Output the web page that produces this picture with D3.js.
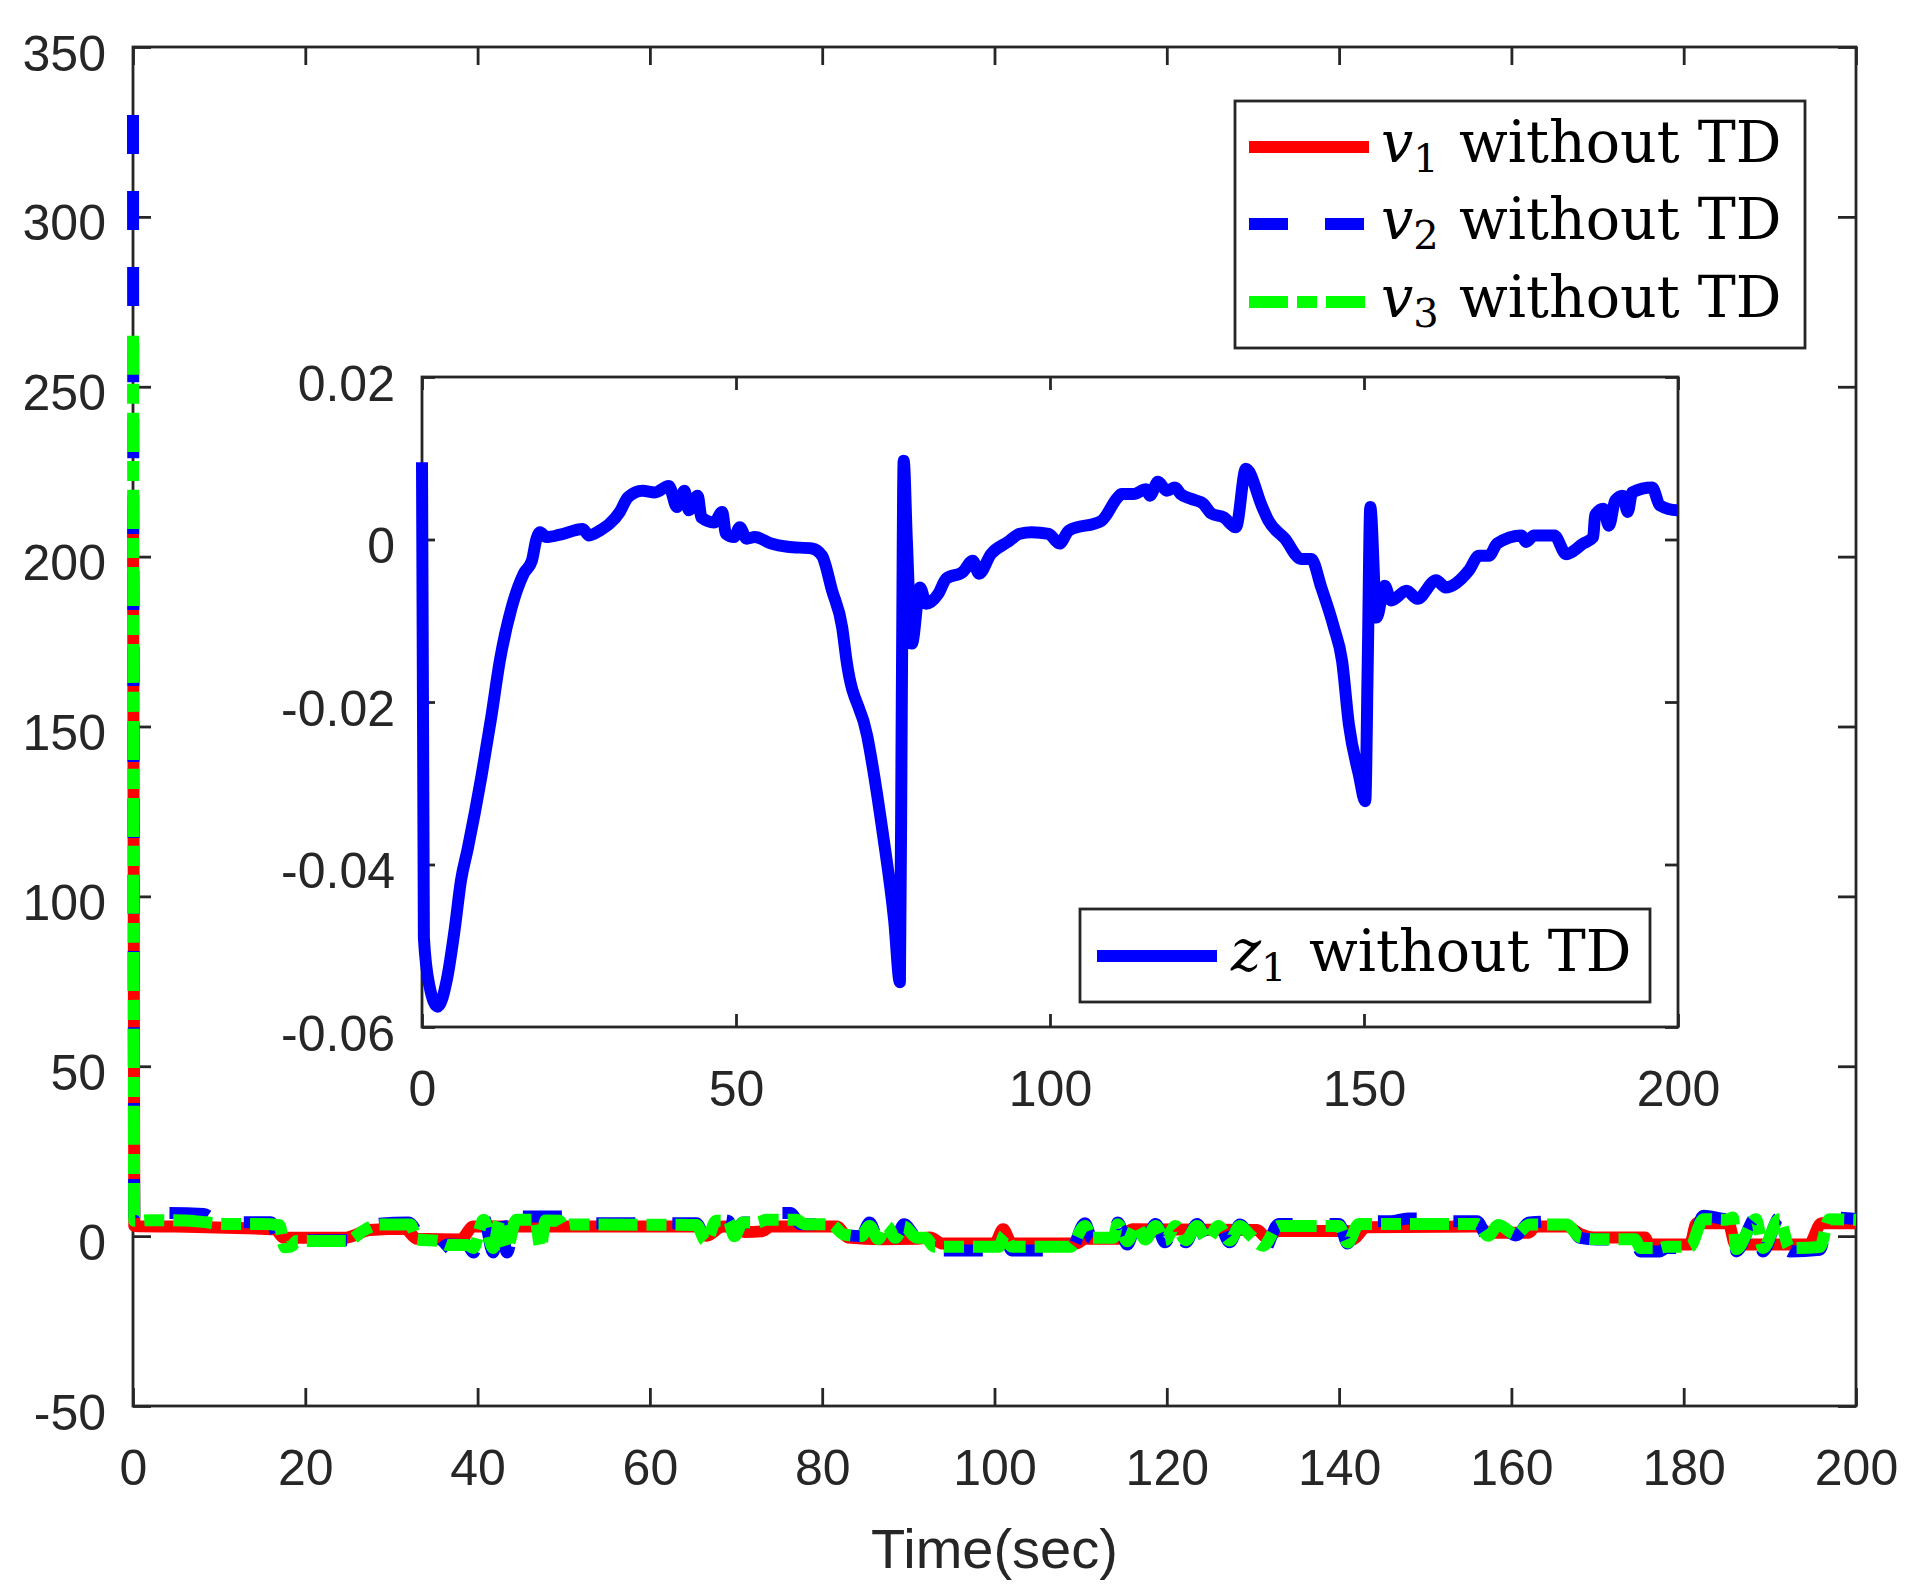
<!DOCTYPE html>
<html lang="en">
<head>
<meta charset="utf-8">
<script src="https://d3js.org/d3.v7.min.js"></script>
<style>
  body { margin: 0; background: #ffffff; }
</style>
</head>
<body>
<div id="chart"></div>
<script>
// tick values / labels
const mainXTicks = [0, 20, 40, 60, 80, 100, 120, 140, 160, 180, 200];
const mainYTicks = [-50, 0, 50, 100, 150, 200, 250, 300, 350];
const insetXTicks = [0, 50, 100, 150, 200];
const insetYTicks = [-0.06, -0.04, -0.02, 0, 0.02];
const insetYLabels = ["-0.06", "-0.04", "-0.02", "0", "0.02"];

// v1 without TD  [time, value]
const v1 = [[0, 215], [0.15, 3], [5, 2.8], [12, 2.4], [16.5, 2.0], [17.5, -0.5], [24.5, -0.5], [27.5, 1.8],
  [31.5, 2.2], [33, -0.8], [38, -1.0], [39.5, 2.8], [52, 2.8], [65.4, 2.8], [66.5, 0.1], [68.5, 2.8],
  [70, 2.6], [71, 1.2], [73, 1.4], [74, 2.8], [81.7, 2.8], [83, -0.4], [87, -0.9], [91, -0.8], [92.5, -0.4],
  [94, -2.2], [100, -2.2], [101, 2.0], [102, -2.2], [109.5, -2.2], [110.5, -0.8], [114.5, -0.8], [116, 2.0],
  [130.5, 1.8], [131.5, -0.3], [133, 1.5], [141, 1.5], [141.5, -1], [143.2, 2.6], [156, 2.8], [157.5, 1.0],
  [162, 1.0], [162.8, 2.8], [166.4, 2.8], [168, 0.6], [169.5, -0.4], [175.5, -0.4], [176, -2.5], [180.7, -2.5],
  [181.5, 3.8], [185.2, 3.8], [186, -2.5], [194.5, -2.5], [196, 3.8], [200, 3.8]];

// v2 without TD
const v2 = [[0, 330], [0.15, 5], [4, 6.8], [8.2, 6.5], [9.5, 4.8], [12, 4.1], [16, 4.1], [17, -1.2], [25, -1.2],
  [28, 3.5], [32, 4.0], [33.5, -1.0], [35.4, -4.3], [36.5, -2.5], [38.8, -2.6], [39.5, -4.8], [40.7, 5.6],
  [41.8, -4.8], [42.6, 5.6], [43.4, -4.8], [44.5, 5.8], [50.5, 5.8], [51.5, 3.8], [65.4, 3.8], [66.5, -1.0],
  [67.8, 4.8], [69.1, 4.5], [69.8, 0.5], [70.8, 4.0], [73, 4.0], [74, 6.8], [76.3, 6.8], [77.5, 3.5], [81, 3.5],
  [82.5, 0.5], [84.5, 0], [85.5, 4.0], [86.5, -0.8], [87.5, 4.0], [88.5, -0.5], [89.5, 3.5], [91, -0.5],
  [92.5, -1.0], [93.5, -4.2], [100.5, -4.2], [101.2, -0.5], [102, -4.2], [108.8, -4.2], [110.5, 3.8],
  [111.3, -0.8], [113.8, -0.8], [114.3, 4.0], [115.4, -2.5], [116.5, 3.5], [117.5, -1.5], [118.7, 3.6],
  [119.8, -1.8], [121, 3.6], [122.2, -1.8], [123.5, 3.6], [124.7, -1.5], [126, 3.6], [127.3, -1.8], [128.5, 3.4],
  [129.6, 0], [131.2, -4.5], [133, 3.6], [140, 3.6], [141, -2.2], [142.3, 4.4], [146, 4.4], [148, 5.2],
  [149.6, 5.2], [151, 4.4], [156, 4.4], [157.3, -0.5], [158.5, 3.8], [160.5, 0.2], [162.1, 4.0], [166.4, 4.4],
  [168, -0.5], [169.9, -1.0], [174.3, -1.0], [175, -4.5], [177.2, -4.5], [178, -3.5], [180.7, -3.5], [182.3, 6.0],
  [185, 5.0], [185.7, 6.0], [186.1, -4.5], [188.4, 5.5], [189.2, -4.5], [191.1, 5.5], [192.3, -4.5],
  [195.8, -4.0], [196.9, 5.5], [200, 5.0]];

// v3 without TD
const v3 = [[0, 265], [0.15, 4.5], [2, 4.7], [6, 4.6], [8, 4.2], [10.5, 3.6], [15, 3.6], [17, 3.2], [17.6, -3.3],
  [18.4, -3.0], [19, -1.4], [24.8, -1.4], [27, 2.0], [28.5, 3.4], [32.2, 3.4], [33, -1.0], [35.4, -1.4],
  [36.5, -2.6], [38.8, -2.6], [39.5, -3.5], [40.7, 4.8], [41.8, -3.5], [42.6, 4.8], [43.4, -3.5], [44.5, 4.8],
  [46.7, 4.8], [47.3, -3.3], [47.9, 4.6], [49.5, 4.5], [50, 3.0], [50.8, 3.4], [65.4, 3.3], [66.5, -1.5],
  [67.7, 4.5], [69.1, 4.5], [69.8, 0], [70.8, 4.0], [72.5, 4.0], [73.5, 4.8], [77, 4.8], [78, 3.5], [81, 3.5],
  [82.5, 0.5], [84.5, 0], [85.5, 3.0], [86.5, -0.8], [87.5, 3.0], [88.5, -0.5], [89.5, 2.8], [91, -0.5],
  [92, -0.5], [93, -3.1], [100.5, -3.1], [101.2, 0.5], [102, -3.1], [108.8, -3.1], [110.5, 3.0], [111.3, -0.5],
  [113.8, -0.5], [114.3, 3.5], [115.4, -1.5], [116.5, 3.0], [117.5, -1.0], [118.7, 3.0], [119.8, -1.2],
  [121, 3.0], [122.2, -1.2], [123.5, 3.0], [124.7, -1.0], [126, 3.0], [127.3, -1.3], [128.5, 3.0], [129.6, 0.5],
  [131.2, -2.8], [133, 3.0], [140, 3.0], [141, -1.9], [142.3, 3.6], [156, 3.6], [157.3, 0.1], [158.5, 3.3],
  [160.5, 0.5], [162.1, 3.4], [166.4, 3.4], [168, -0.4], [169.9, -0.9], [174.3, -0.9], [175, -3.5],
  [177.2, -3.5], [178, -3.1], [180.7, -3.1], [182.3, 5.0], [185, 4.8], [185.7, 5.5], [186.1, -3.8], [188.4, 5.0],
  [189.2, -3.5], [191.1, 5.0], [192.3, -3.5], [195.8, -3.2], [196.9, 5.0], [200, 4.8]];

// z1 without TD (inset)
const z1 = [[0, 0.0095], [0.3, -0.049], [1.2, -0.055], [2.5, -0.0575], [4, -0.054], [5.2, -0.048], [6.2, -0.042],
  [7.3, -0.038], [9.5, -0.029], [11, -0.022], [12.4, -0.0149], [14.3, -0.0083], [16.2, -0.0042], [17.5, -0.0026],
  [18.2, 0.0], [18.8, 0.0009], [19.8, 0.0003], [22, 0.0006], [25.6, 0.0013], [26.6, 0.0005], [28.3, 0.0011],
  [31.5, 0.0034], [32.8, 0.0052], [35.1, 0.006], [37.1, 0.0058], [39.3, 0.0066], [40.6, 0.004], [41.8, 0.006],
  [42.5, 0.0036], [43.9, 0.0054], [44.5, 0.0027], [46.5, 0.0021], [47.8, 0.0034], [48.4, 0.0007], [49.7, 0.0003],
  [50.6, 0.0015], [51.7, 0.0001], [53, 0.0003], [55.6, -0.0005], [58.2, -0.0009], [62.1, -0.0011], [63.7, -0.002],
  [65.3, -0.0063], [66.9, -0.0108], [67.6, -0.0149], [70.9, -0.0242], [73.4, -0.0363], [75.2, -0.047],
  [76.1, -0.0545], [76.4, -0.02], [76.7, 0.0097], [77.2, 0.0], [78, -0.0128], [79.3, -0.0059], [80.3, -0.0079],
  [82.2, -0.0067], [83.5, -0.0048], [86.1, -0.004], [87.7, -0.0026], [88.7, -0.0042], [90.6, -0.0018],
  [93.3, -0.0003], [95.2, 0.0007], [97.1, 0.0009], [99.8, 0.0007], [101.5, -0.0005], [103, 0.0011],
  [108.2, 0.0023], [110.8, 0.0052], [111.4, 0.0056], [113.3, 0.0056], [115.3, 0.0062], [115.9, 0.0054],
  [117.2, 0.0071], [118.6, 0.006], [119.9, 0.0064], [120.8, 0.0056], [122.5, 0.005], [124.4, 0.0044],
  [125.7, 0.0032], [127.7, 0.0027], [129.6, 0.0015], [131.2, 0.0087], [133.8, 0.004], [134.8, 0.0023],
  [137.4, 0.0001], [140, -0.0024], [141.6, -0.0024], [143.2, -0.0059], [145.2, -0.0108], [146.5, -0.0149],
  [147.6, -0.0228], [149.2, -0.029], [150.2, -0.0322], [150.6, -0.015], [151, 0.004], [152, -0.0096],
  [153.3, -0.0057], [154.3, -0.0075], [156.8, -0.0063], [158.5, -0.0073], [161.5, -0.005], [163, -0.0059],
  [166.7, -0.0038], [168.3, -0.002], [169.9, -0.002], [171.2, -0.0005], [175.1, 0.0005], [175.8, -0.0003],
  [177.1, 0.0005], [180.3, 0.0005], [182.2, -0.0018], [184.9, -0.0005], [186.5, 0.0003], [186.8, 0.003],
  [188.1, 0.0038], [189, 0.0017], [190, 0.0048], [191.2, 0.0054], [192, 0.0034], [192.7, 0.0058],
  [195.9, 0.0064], [197.1, 0.0042], [199.8, 0.0036], [200, 0.0036]];

const mainSeries = [
  { sym: "v", sub: "1", data: v1, color: "#ff0000", dash: null },
  { sym: "v", sub: "2", data: v2, color: "#0000ff", dash: "39,37" },
  { sym: "v", sub: "3", data: v3, color: "#00ff00", dash: "39,9,20,9" }
];
const insetSeries = [{ sym: "z", sub: "1", data: z1, color: "#0000ff", dash: null }];

const W = 1917, H = 1590;
const axisColor = "#262626";
const tickFont = '"Liberation Sans", Arial, Helvetica, sans-serif';
const legendFont = '"DejaVu Serif", serif';

const svg = d3.select("#chart").append("svg")
  .attr("width", W).attr("height", H)
  .style("background", "#ffffff");

const mainBox = { left: 133, right: 1856, top: 47, bottom: 1406 };
const insetBox = { left: 422, right: 1678, top: 377, bottom: 1027 };

const x = d3.scaleLinear().domain([0, 200]).range([mainBox.left, mainBox.right]);
const y = d3.scaleLinear().domain([-50, 350]).range([mainBox.bottom, mainBox.top]);
const xi = d3.scaleLinear().domain([0, 200]).range([insetBox.left, insetBox.right]);
const yi = d3.scaleLinear().domain([-0.06, 0.02]).range([insetBox.bottom, insetBox.top]);

// plain hyphen minus like the original figure
const intFmt = d => String(d);

// draws box, inward ticks on all four sides, and labels
function drawFrame(g, xs, ys, box, tickLen, xTicks, yTicks, yFmt) {
  g.append("rect")
    .attr("x", box.left).attr("y", box.top)
    .attr("width", box.right - box.left).attr("height", box.bottom - box.top)
    .attr("fill", "none").attr("stroke", axisColor).attr("stroke-width", 2.8);

  const styleAxis = sel => {
    sel.select(".domain").remove();
    sel.selectAll(".tick line").attr("stroke", axisColor).attr("stroke-width", 2.8);
    sel.selectAll(".tick text")
      .attr("fill", axisColor)
      .style("font-family", tickFont)
      .style("font-size", "50px");
  };

  g.append("g")
    .attr("transform", `translate(0,${box.bottom})`)
    .call(d3.axisBottom(xs).tickValues(xTicks).tickSize(-tickLen).tickSizeOuter(0).tickFormat(intFmt))
    .call(styleAxis)
    .call(s => s.selectAll(".tick text").attr("y", 79).attr("dy", 0));

  g.append("g")
    .attr("transform", `translate(0,${box.top})`)
    .call(d3.axisTop(xs).tickValues(xTicks).tickSize(-tickLen).tickSizeOuter(0).tickFormat(""))
    .call(styleAxis);

  g.append("g")
    .attr("transform", `translate(${box.left},0)`)
    .call(d3.axisLeft(ys).tickValues(yTicks).tickSize(-tickLen).tickSizeOuter(0).tickPadding(27).tickFormat(yFmt))
    .call(styleAxis)
    .call(s => s.selectAll(".tick text").attr("dy", 23));

  g.append("g")
    .attr("transform", `translate(${box.right},0)`)
    .call(d3.axisRight(ys).tickValues(yTicks).tickSize(-tickLen).tickSizeOuter(0).tickFormat(""))
    .call(styleAxis);
}

function drawLegend(g, box, items, lineX0, lineX1, textX, rowYs) {
  g.append("rect")
    .attr("x", box.left).attr("y", box.top)
    .attr("width", box.right - box.left).attr("height", box.bottom - box.top)
    .attr("fill", "#ffffff").attr("stroke", axisColor).attr("stroke-width", 2.8);

  items.forEach((it, i) => {
    const ry = rowYs[i];
    g.append("line")
      .attr("x1", lineX0).attr("x2", lineX1).attr("y1", ry).attr("y2", ry)
      .attr("stroke", it.color).attr("stroke-width", 12)
      .attr("stroke-dasharray", it.dash);
    const t = g.append("text")
      .attr("x", textX).attr("y", ry + 14.5)
      .attr("fill", "#000000")
      .style("font-family", legendFont)
      .style("font-size", "57px");
    t.append("tspan").style("font-style", "italic").text(it.sym);
    t.append("tspan").attr("dy", 10).style("font-size", "40px").text(it.sub);
    t.append("tspan").attr("x", textX + 78).attr("dy", -10).text("without TD");
  });
}

// ---- main axes ----
const gMain = svg.append("g");
drawFrame(gMain, x, y, mainBox, 18, mainXTicks, mainYTicks, intFmt);

const lineMain = d3.line()
  .x(d => x(d[0]))
  .y(d => y(d[1]))
  .curve(d3.curveMonotoneX);

mainSeries.forEach(s => {
  gMain.append("path")
    .datum(s.data)
    .attr("d", lineMain)
    .attr("fill", "none")
    .attr("stroke", s.color)
    .attr("stroke-width", 12)
    .attr("stroke-linejoin", "round")
    .attr("stroke-dasharray", s.dash);
});

gMain.append("text")
  .attr("x", (mainBox.left + mainBox.right) / 2)
  .attr("y", 1568)
  .attr("text-anchor", "middle")
  .attr("fill", axisColor)
  .style("font-family", tickFont)
  .style("font-size", "56px")
  .text("Time(sec)");

// ---- inset axes ----
const gInset = svg.append("g");
gInset.append("rect")
  .attr("x", insetBox.left).attr("y", insetBox.top)
  .attr("width", insetBox.right - insetBox.left).attr("height", insetBox.bottom - insetBox.top)
  .attr("fill", "#ffffff");
drawFrame(gInset, xi, yi, insetBox, 13, insetXTicks, insetYTicks, (d, i) => insetYLabels[i]);

const lineInset = d3.line()
  .x(d => xi(d[0]))
  .y(d => yi(d[1]))
  .curve(d3.curveMonotoneX);

insetSeries.forEach(s => {
  gInset.append("path")
    .datum(s.data)
    .attr("d", lineInset)
    .attr("fill", "none")
    .attr("stroke", s.color)
    .attr("stroke-width", 12)
    .attr("stroke-linejoin", "round");
});

// ---- legends ----
drawLegend(svg.append("g"), { left: 1235, right: 1805, top: 101, bottom: 348 },
  mainSeries, 1249, 1369, 1381, [147, 224, 302]);
drawLegend(svg.append("g"), { left: 1080, right: 1650, top: 909, bottom: 1002 },
  insetSeries, 1097, 1217, 1231, [956]);
</script>
</body>
</html>
